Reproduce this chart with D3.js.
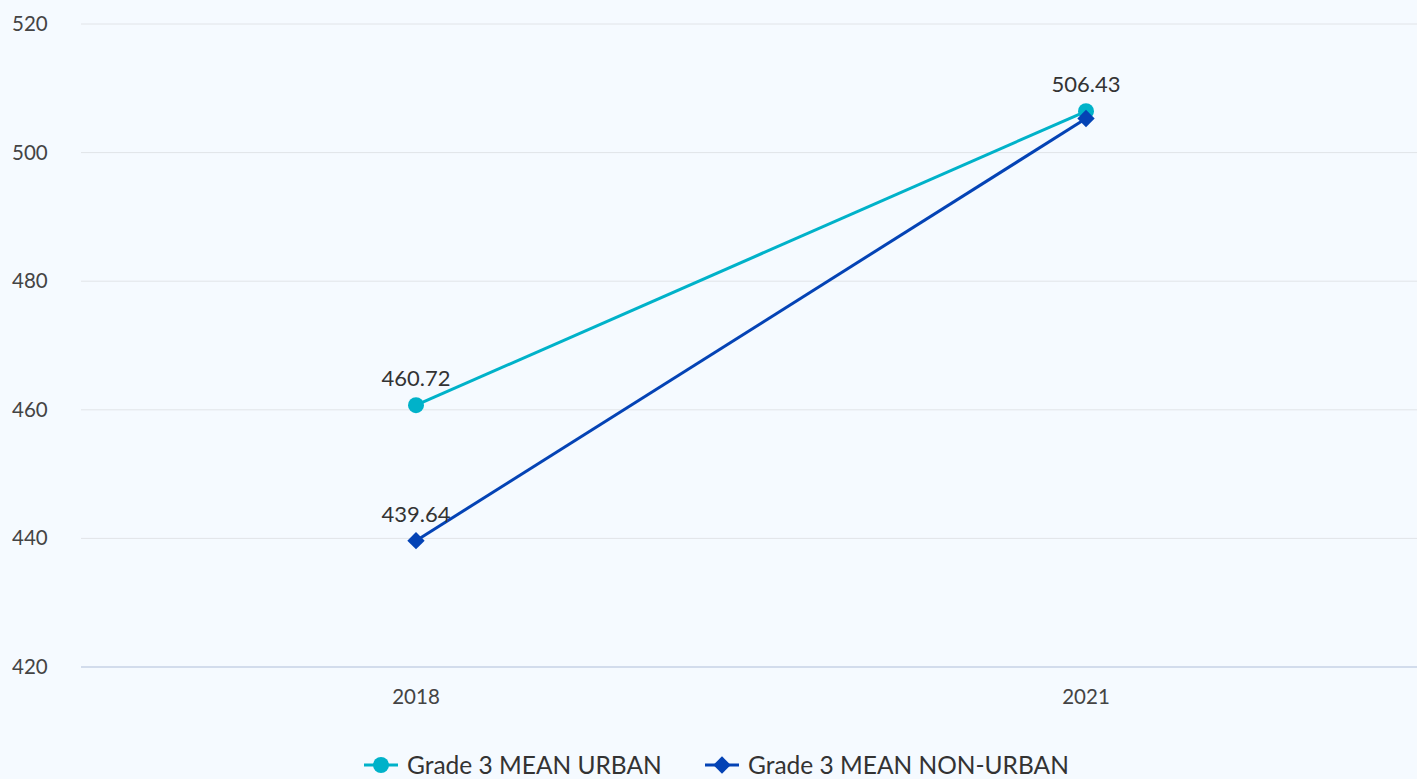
<!DOCTYPE html>
<html>
<head>
<meta charset="utf-8">
<script src="https://cdn.jsdelivr.net/npm/d3@7"></script>
<style>
  body { margin: 0; background: #f5faff; }
  svg { display: block; font-family: "Lato", "Noto Sans", sans-serif; }
</style>
</head>
<body>
<div id="chart-area"></div>
<script>
const years = ["2018", "2021"]
const urban = [460.72, 506.43]
const nonUrban = [439.64, 505.3]
const yTicks = [420, 440, 460, 480, 500, 520]
const seriesNames = ["Grade 3 MEAN URBAN", "Grade 3 MEAN NON-URBAN"]

const W = 1417, H = 779
const MARGIN = { LEFT: 81, RIGHT: -4, TOP: 24, BOTTOM: 112 }

const svg = d3.select("#chart-area").append("svg")
  .attr("width", W)
  .attr("height", H)

svg.append("rect").attr("width", W).attr("height", H).attr("fill", "#f5faff")

const x = d3.scalePoint()
  .domain(years)
  .range([MARGIN.LEFT, W - MARGIN.RIGHT])
  .padding(0.5)

const y = d3.scaleLinear()
  .domain([420, 520])
  .range([H - MARGIN.BOTTOM, MARGIN.TOP])

// grid lines
svg.append("g").selectAll("line")
  .data(yTicks)
  .join("line")
    .attr("x1", MARGIN.LEFT)
    .attr("x2", W)
    .attr("y1", d => y(d))
    .attr("y2", d => y(d))
    .attr("stroke", d => d === 420 ? "#c6d2e6" : "#e1e4e8")
    .attr("stroke-width", d => d === 420 ? 1.5 : 1)

// y labels
svg.append("g").selectAll("text")
  .data(yTicks)
  .join("text")
    .attr("x", 12)
    .attr("y", d => y(d) + 7)
    .attr("font-size", 20.5)
    .attr("fill", "#444")
    .text(d => d)

// x labels
svg.append("g").selectAll("text")
  .data(years)
  .join("text")
    .attr("x", d => x(d))
    .attr("y", H - MARGIN.BOTTOM + 37)
    .attr("text-anchor", "middle")
    .attr("font-size", 20.5)
    .attr("fill", "#444")
    .text(d => d)

const colors = ["#00b2c9", "#0443b5"]
const line = d3.line().x((d, i) => x(years[i])).y(d => y(d))

// series
const series = [urban, nonUrban]
series.forEach((vals, si) => {
  svg.append("path")
    .datum(vals)
    .attr("d", line)
    .attr("fill", "none")
    .attr("stroke", colors[si])
    .attr("stroke-width", 3)
})

svg.append("g").selectAll("circle")
  .data(urban)
  .join("circle")
    .attr("cx", (d, i) => x(years[i]))
    .attr("cy", d => y(d))
    .attr("r", 8)
    .attr("fill", colors[0])

svg.append("g").selectAll("path")
  .data(nonUrban)
  .join("path")
    .attr("d", d3.symbol().type(d3.symbolSquare).size(150))
    .attr("transform", (d, i) => `translate(${x(years[i])},${y(d)}) rotate(45)`)
    .attr("fill", colors[1])

// data labels (the 2021 non-urban label is hidden by overlap in the original)
const labels = [
  { v: urban[0], i: 0 },
  { v: urban[1], i: 1 },
  { v: nonUrban[0], i: 0 }
]
svg.append("g").selectAll("text")
  .data(labels)
  .join("text")
    .attr("x", d => x(years[d.i]))
    .attr("y", d => y(d.v) - 19)
    .attr("text-anchor", "middle")
    .attr("font-size", 22)
    .attr("fill", "#333")
    .text(d => d.v.toFixed(2))

// legend
const legend = svg.append("g").attr("transform", `translate(0, ${H - 5})`)
const lx = [364, 705]
seriesNames.forEach((name, i) => {
  const g = legend.append("g").attr("transform", `translate(${lx[i]},0)`)
  g.append("line").attr("x1", 0).attr("x2", 34).attr("y1", -9).attr("y2", -9)
    .attr("stroke", colors[i]).attr("stroke-width", 3)
  if (i === 0) {
    g.append("circle").attr("cx", 17).attr("cy", -9).attr("r", 8).attr("fill", colors[i])
  } else {
    g.append("path").attr("d", d3.symbol().type(d3.symbolSquare).size(150))
      .attr("transform", "translate(17,-9) rotate(45)").attr("fill", colors[i])
  }
  g.append("text").attr("x", 43).attr("y", 0)
    .attr("font-size", 24.5).attr("fill", "#333")
    .text(name)
})
</script>
</body>
</html>
